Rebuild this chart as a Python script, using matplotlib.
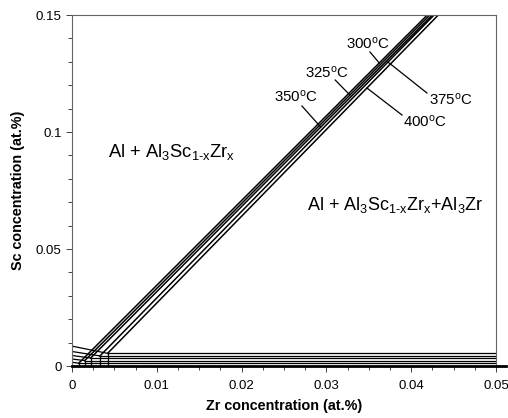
import numpy as np
import matplotlib.pyplot as plt
from matplotlib.ticker import MultipleLocator, FormatStrFormatter

plt.rcParams['font.family'] = ['Liberation Sans', 'DejaVu Sans']
plt.rcParams['mathtext.fontset'] = 'custom'
plt.rcParams['mathtext.rm'] = 'Liberation Sans'
plt.rcParams['mathtext.it'] = 'Liberation Sans'

# solvus lines for each temperature
temps = [300, 325, 350, 375, 400]
sc_at_zero = [0.0016, 0.0030, 0.0045, 0.0062, 0.0085]   # Sc solubility at Zr = 0
corner_zr = [0.0008, 0.0015, 0.0022, 0.0033, 0.0042]    # Zr at three-phase corner
corner_sc = [0.0012, 0.0023, 0.0034, 0.0043, 0.0054]    # Sc at three-phase corner
top_zr = [0.0419, 0.0422, 0.0425, 0.0427, 0.0432]       # Zr where boundary reaches Sc = 0.15
sc_top = 0.15
zr_max = 0.05

# label placement (text centre, pointer start, pointer end Sc)
label_pos = [(0.03491, 0.13761), (0.03009, 0.12521), (0.02642, 0.11496),
             (0.04469, 0.11368), (0.04163, 0.10427)]
pointer_start = [(0.03514, 0.13419), (0.03104, 0.12222), (0.02712, 0.11111),
                 (0.04186, 0.11667), (0.03892, 0.10726)]
pointer_end_sc = [0.1295, 0.1158, 0.1021, 0.1299, 0.1188]

fig = plt.figure(figsize=(5.08, 4.18), dpi=100)
ax = fig.add_axes([0.1417, 0.1244, 0.8346, 0.8397])

for i, t in enumerate(temps):
    xc, yc = corner_zr[i], corner_sc[i]
    # Sc solvus from the axis to the corner
    ax.plot([0, xc], [sc_at_zero[i], yc], color='black', lw=0.9)
    # boundary to Al3Zr side
    ax.plot([xc, top_zr[i]], [yc, sc_top], color='black', lw=1.1)
    # horizontal three-phase boundary
    ax.plot([xc, zr_max], [yc, yc], color='black', lw=0.9)
    # vertical Zr solvus
    ax.plot([xc, xc], [0, yc], color='black', lw=0.9)

    # temperature label and pointer
    ye = pointer_end_sc[i]
    xe = xc + (ye - yc) * (top_zr[i] - xc) / (sc_top - yc)
    xs, ys = pointer_start[i]
    ax.plot([xs, xe], [ys, ye], color='black', lw=0.9)
    ax.text(label_pos[i][0], label_pos[i][1], f'{t}$^{{\\rm o}}$C',
            ha='center', va='center', fontsize=10.8)

ax.text(0.00425, 0.0915, 'Al + Al$_\\mathrm{3}$Sc$_\\mathrm{1\u2010x}$Zr$_\\mathrm{x}$',
        fontsize=13.2, ha='left', va='center')
ax.text(0.0277, 0.0688, 'Al + Al$_\\mathrm{3}$Sc$_\\mathrm{1\u2010x}$Zr$_\\mathrm{x}$+Al$_\\mathrm{3}$Zr',
        fontsize=13, ha='left', va='center')

ax.set_xlim(0, zr_max)
ax.set_ylim(0, sc_top)
ax.xaxis.set_major_locator(MultipleLocator(0.01))
ax.xaxis.set_minor_locator(MultipleLocator(0.0025))
ax.yaxis.set_major_locator(MultipleLocator(0.05))
ax.yaxis.set_minor_locator(MultipleLocator(0.01))
ax.xaxis.set_major_formatter(FormatStrFormatter('%g'))
ax.yaxis.set_major_formatter(FormatStrFormatter('%g'))
ax.tick_params(which='both', direction='out', labelsize=9.5, width=0.7, color='#444')
ax.tick_params(which='major', length=4)
ax.tick_params(which='minor', length=3)
ax.tick_params(axis='x', pad=6)

for s in ['left', 'top', 'right']:
    ax.spines[s].set_color('#666')
    ax.spines[s].set_linewidth(0.8)
ax.spines['bottom'].set_color('black')
ax.spines['bottom'].set_linewidth(2.0)
ax.spines['bottom'].set_bounds(0, 0.0512)

ax.set_xlabel('Zr concentration (at.%)', fontsize=10.4, fontweight='bold', labelpad=5)
ax.set_ylabel('Sc concentration (at.%)', fontsize=10.4, fontweight='bold', labelpad=8)

fig.savefig('out.png', dpi=100)
